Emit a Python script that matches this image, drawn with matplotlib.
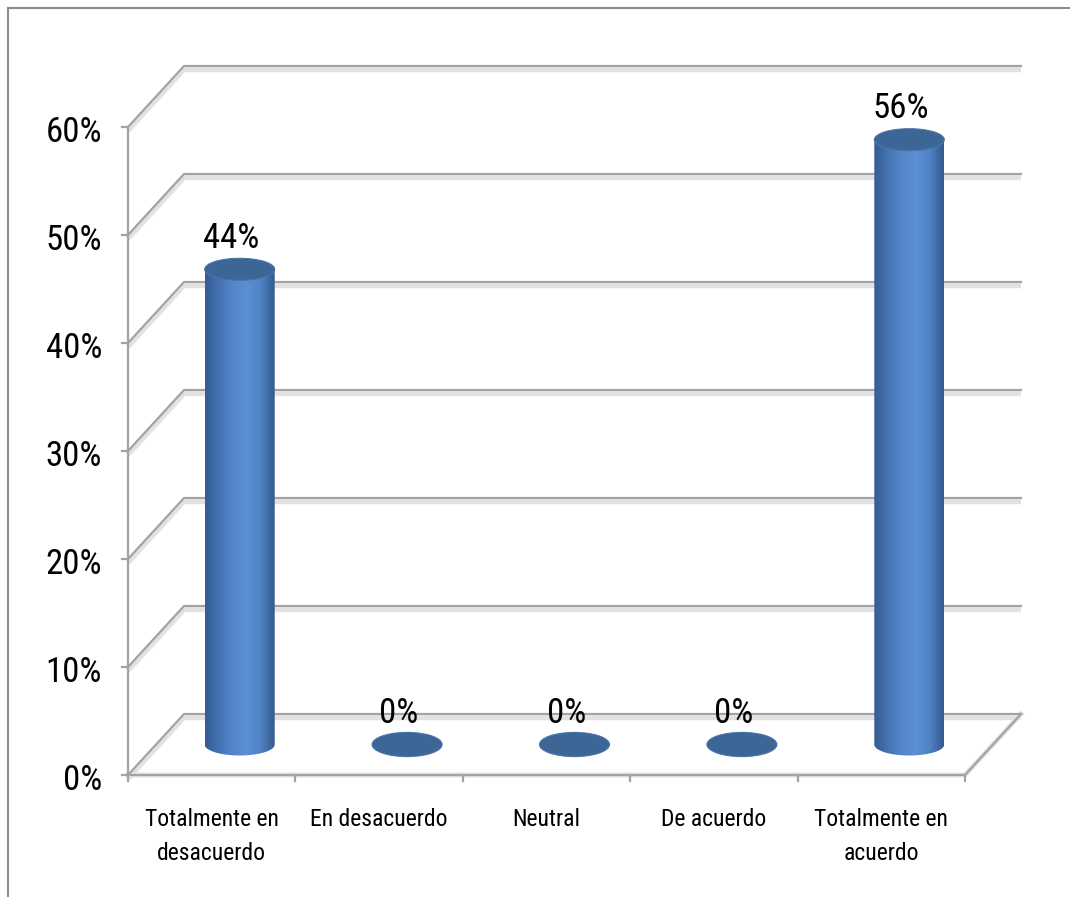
import matplotlib
matplotlib.use("Agg")
import matplotlib.pyplot as plt
import numpy as np
from matplotlib import font_manager
from matplotlib.lines import Line2D
from matplotlib.patches import Ellipse, Polygon

categories = ["Totalmente en\ndesacuerdo", "En desacuerdo", "Neutral",
              "De acuerdo", "Totalmente en\nacuerdo"]
values = [44, 0, 0, 0, 56]
y_ticks = [0, 10, 20, 30, 40, 50, 60]

# pick a narrow face if one is installed
names = {f.name for f in font_manager.fontManager.ttflist}
FONT = "DejaVu Sans"
for cand in ["Liberation Sans Narrow", "Roboto Condensed", "Open Sans Condensed",
             "DejaVu Sans Condensed", "Liberation Sans"]:
    if cand in names:
        FONT = cand
        break
plt.rcParams["font.family"] = [FONT, "DejaVu Sans"]

W, H = 1070, 897
fig = plt.figure(figsize=(W / 100, H / 100), dpi=100)

# pseudo-3d layout: front plane spans the categories, back plane offset by DX/DY
PX_CAT = 167.4
PX_PCT = 10.8
DX = 56 / PX_CAT
DY = 61 / PX_PCT
ax = fig.add_axes([128 / W, (H - 775) / H, (5 * PX_CAT + 56) / W, (60 * PX_PCT + 61) / H])
ax.set_xlim(-0.5, 4.5 + DX)
ax.set_ylim(0, 60 + DY)
ax.set_axis_off()

GRID = "#a3a3a3"
SHADOW = "#e2e2e2"

# gridlines: diagonal on the side wall, horizontal on the back wall
for t in y_ticks:
    xs = [-0.5, -0.5 + DX, 4.5 + DX]
    ys = [t, t + DY, t + DY]
    ax.plot(xs, [y - 0.35 for y in ys], color=SHADOW, lw=3.5, solid_capstyle="butt",
            clip_on=False, zorder=1)
    ax.plot(xs, ys, color=GRID, lw=1.6, clip_on=False, zorder=2)
    ax.plot([-0.5 - 0.036, -0.5], [t, t], color=GRID, lw=1.6, clip_on=False, zorder=2)
    ax.text(-0.5 - 0.155, t - 0.5, f"{t}%", ha="right", va="center",
            fontsize=25, color="#000000")

# floor front edge, right edge and value axis
ax.plot([-0.5, 4.5, 4.5 + DX], [0, 0, DY], color=SHADOW, lw=3.5, clip_on=False, zorder=1)
ax.plot([-0.5, 4.5, 4.5 + DX], [0, 0, DY], color=GRID, lw=1.6, clip_on=False, zorder=2)
ax.plot([-0.5, -0.5], [0, 60], color=GRID, lw=1.6, clip_on=False, zorder=2)
for k in range(len(categories) + 1):
    ax.plot([k - 0.5, k - 0.5], [0, -0.6], color=GRID, lw=1.6, clip_on=False, zorder=2)

# category labels under the floor
for i, lab in enumerate(categories):
    ax.text(i, -3.1, lab, ha="center", va="top", fontsize=17,
            linespacing=1.6, color="#000000")

# cylinders
CW = 70 / PX_CAT
EH = 22 / PX_PCT
base = DY / 2
stops = np.array([[0.20, 0.36, 0.57], [0.27, 0.45, 0.70], [0.33, 0.53, 0.79],
                  [0.36, 0.56, 0.83], [0.31, 0.51, 0.77], [0.20, 0.35, 0.55]])
pos = np.linspace(0, 1, len(stops))
xx = np.linspace(0, 1, 200)
grad = np.stack([np.interp(xx, pos, stops[:, c]) for c in range(3)], axis=-1)[None, :, :]

for i, v in enumerate(values):
    cx = i + DX / 2
    top = base + v
    th = np.linspace(np.pi, 2 * np.pi, 60)
    arc = np.column_stack([cx + CW / 2 * np.cos(th), base + EH / 2 * np.sin(th)])
    pts = np.vstack([[cx - CW / 2, top], arc, [cx + CW / 2, top]])
    body = Polygon(pts, closed=True, facecolor="none", edgecolor="none",
                   transform=ax.transData)
    ax.add_patch(body)
    im = ax.imshow(grad, extent=[cx - CW / 2, cx + CW / 2, base - EH, top + EH],
                   aspect="auto", zorder=3, interpolation="bilinear")
    im.set_clip_path(body)
    ax.add_patch(Ellipse((cx, top), CW, EH * (1.1 if v == 0 else 1.0),
                         facecolor="#3c6695", edgecolor="#4a74a6", lw=0.8, zorder=4))
    ax.text(cx - 0.05, top + EH / 2 + 0.3, f"{v}%", ha="center", va="bottom",
            fontsize=25, color="#000000", zorder=5)

ax.set_xlim(-0.5, 4.5 + DX)
ax.set_ylim(0, 60 + DY)

# chart frame (top and left borders)
fig.add_artist(Line2D([8 / W, 8 / W], [0, 1 - 8 / H], color="#8c8c8c", lw=1.5,
                      transform=fig.transFigure))
fig.add_artist(Line2D([8 / W, 1], [1 - 8 / H, 1 - 8 / H], color="#8c8c8c", lw=1.5,
                      transform=fig.transFigure))

fig.savefig("out.png", dpi=100, facecolor="white")
